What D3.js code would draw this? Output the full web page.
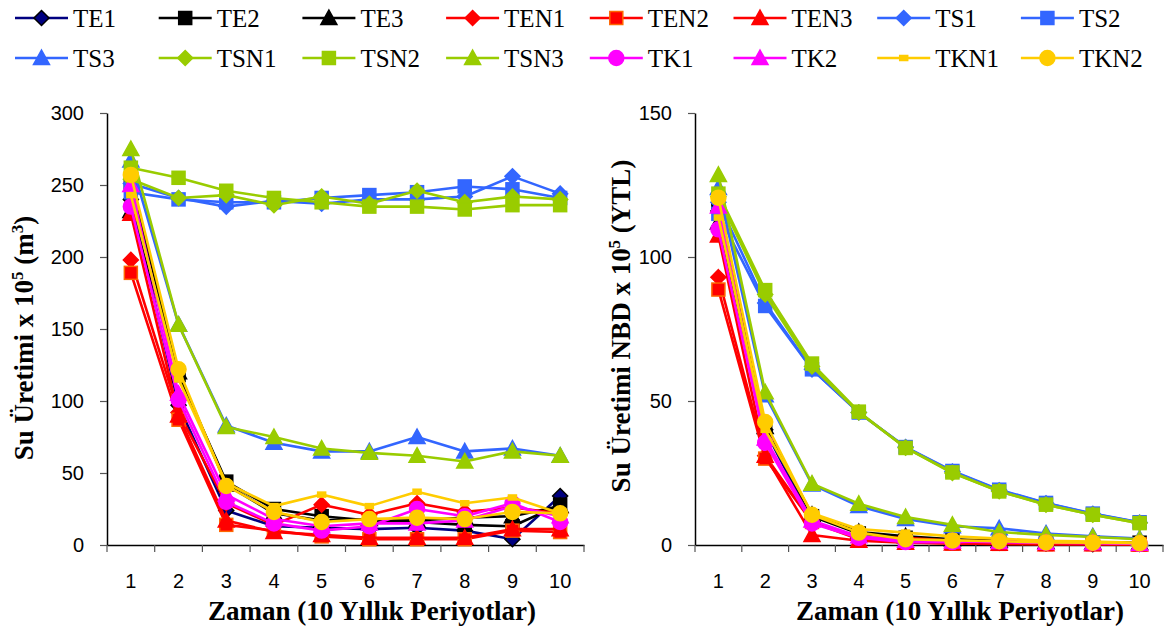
<!DOCTYPE html>
<html><head><meta charset="utf-8">
<script src="https://cdn.jsdelivr.net/npm/d3@7"></script>
<style>body{margin:0;background:#fff}svg{display:block}</style>
</head><body>
<svg id="c" width="1168" height="637"></svg>
<script>
// ---- data ----
const categories = [1,2,3,4,5,6,7,8,9,10];
const seriesNames = ["TE1","TE2","TE3","TEN1","TEN2","TEN3","TS1","TS2","TS3","TSN1","TSN2","TSN3","TK1","TK2","TKN1","TKN2"];
const leftTicks = [0,50,100,150,200,250,300];
const rightTicks = [0,50,100,150];

// Su Üretimi (m3) x 10^5
const prodTE1  = [240, 97, 24, 13, 12, 11, 12, 10, 4, 34];
const prodTE2  = [252, 118, 44, 25, 20, 17, 16, 14, 13, 28];
const prodTE3  = [232, 120, 42, 22, 17, 18, 17, 19, 20, 27];
const prodTEN1 = [198, 92, 29, 14, 28, 21, 29, 23, 26, 22];
const prodTEN2 = [189, 87, 14, 10, 6, 4, 4, 4, 10, 9];
const prodTEN3 = [230, 90, 17, 9, 7, 5, 5, 5, 11, 11];
const prodTS1  = [251, 241, 235, 239, 237, 240, 240, 242, 256, 244];
const prodTS2  = [245, 240, 238, 238, 241, 243, 245, 249, 247, 241];
const prodTS3  = [267, 153, 83, 71, 65, 65, 75, 65, 67, 62];
const prodTSN1 = [254, 241, 243, 236, 242, 237, 246, 238, 242, 240];
const prodTSN2 = [262, 255, 246, 241, 238, 235, 235, 233, 236, 236];
const prodTSN3 = [275, 153, 82, 75, 67, 64, 62, 58, 65, 62];
const prodTK1  = [235, 101, 30, 15, 10, 13, 25, 20, 29, 16];
const prodTK2  = [250, 105, 35, 18, 13, 15, 15, 17, 27, 20];
const prodTKN1 = [243, 115, 43, 27, 35, 27, 37, 29, 33, 22];
const prodTKN2 = [257, 122, 41, 23, 16, 18, 19, 18, 23, 22];

// Su Üretimi NBD (YTL) x 10^5
const npvTE1  = [116, 40, 8, 2.5, 1.5, 1, 0.8, 0.5, 0.3, 0.4];
const npvTE2  = [118, 41, 10, 4, 2.5, 1.8, 1.3, 1, 0.8, 0.8];
const npvTE3  = [112, 41, 10.5, 4.5, 3, 2, 1.5, 1, 0.8, 0.7];
const npvTEN1 = [93, 31, 8, 2.5, 2.5, 1.5, 1.3, 0.8, 0.6, 0.5];
const npvTEN2 = [88.7, 30, 8, 2, 1, 0.5, 0.4, 0.3, 0.3, 0.2];
const npvTEN3 = [107.5, 31, 3.5, 1.5, 0.8, 0.5, 0.4, 0.3, 0.3, 0.2];
const npvTS1  = [119, 84, 61, 46, 34, 25.5, 19, 14.5, 10.8, 7.8];
const npvTS2  = [115, 83, 61, 46, 34, 25.7, 19.2, 14.6, 10.9, 7.9];
const npvTS3  = [124, 52, 21, 13.5, 9, 6.5, 5.8, 4, 3, 2.2];
const npvTSN1 = [121, 87, 62, 46, 33.8, 25, 18.7, 14, 10.5, 7.6];
const npvTSN2 = [122, 88.5, 63, 46.3, 33.7, 25.2, 18.6, 14, 10.5, 7.6];
const npvTSN3 = [128.5, 53, 21.3, 14.3, 9.7, 7, 4.5, 3.5, 2.8, 2];
const npvTK1  = [109.6, 35.5, 7.5, 2.5, 1, 1, 1.3, 0.8, 0.7, 0.4];
const npvTK2  = [117.5, 37, 8.5, 3, 1.5, 1.2, 1, 0.8, 0.7, 0.4];
const npvTKN1 = [113.7, 40, 11, 5.5, 4.3, 3, 2.2, 1.5, 1.2, 0.8];
const npvTKN2 = [120.6, 42.7, 10.5, 4.3, 2, 1.6, 1.3, 0.9, 0.8, 0.6];

const prodData = [prodTE1,prodTE2,prodTE3,prodTEN1,prodTEN2,prodTEN3,prodTS1,prodTS2,prodTS3,prodTSN1,prodTSN2,prodTSN3,prodTK1,prodTK2,prodTKN1,prodTKN2];
const npvData  = [npvTE1,npvTE2,npvTE3,npvTEN1,npvTEN2,npvTEN3,npvTS1,npvTS2,npvTS3,npvTSN1,npvTSN2,npvTSN3,npvTK1,npvTK2,npvTKN1,npvTKN2];

// ---- styles ----
const lineColors = ["#000080","#000000","#000000","#FF0000","#FF0000","#FF0000","#3366FF","#3366FF","#3366FF","#99CC00","#99CC00","#99CC00","#FF00FF","#FF00FF","#FFCC00","#FFCC00"];
const markerFill = ["#000080","#000000","#000000","#FF0000","#FF0000","#FF0000","#3366FF","#3366FF","#3366FF","#99CC00","#99CC00","#99CC00","#FF00FF","#FF00FF","#FFCC00","#FFCC00"];
const markerStroke = ["#000000","#000000","#000000","#FF0000","#FF6600","#FF0000","#3366FF","#3366FF","#3366FF","#99CC00","#99CC00","#99CC00","#FF00FF","#FF00FF","#FFCC00","#FFCC00"];
const markerShape = ["diamond","square","triangle","diamond","square","triangle","diamond","square","triangle","diamond","square","triangle","circle","triangle","dash","circle"];

const svg = d3.select("#c");

function drawMarker(g, shape, cx, cy, fill, stroke){
  let el;
  if(shape==="diamond"){
    el = g.append("path").attr("d",`M${cx},${cy-7.5}L${cx+7.5},${cy}L${cx},${cy+7.5}L${cx-7.5},${cy}Z`);
  } else if(shape==="square"){
    el = g.append("rect").attr("x",cx-6.5).attr("y",cy-6.5).attr("width",13).attr("height",13);
  } else if(shape==="triangle"){
    el = g.append("path").attr("d",`M${cx},${cy-8}L${cx+8},${cy+6.5}L${cx-8},${cy+6.5}Z`);
  } else if(shape==="circle"){
    el = g.append("circle").attr("cx",cx).attr("cy",cy).attr("r",7.5);
  } else {
    el = g.append("rect").attr("x",cx-4).attr("y",cy-2.5).attr("width",8).attr("height",5);
  }
  el.attr("fill",fill).attr("stroke",stroke).attr("stroke-width",1.5);
}

function drawChart(cfg){
  const x = d3.scaleBand().domain(categories).range([cfg.x0,cfg.x1]).padding(0);
  const y = d3.scaleLinear().domain([0,cfg.ymax]).range([545,113]);
  const cx = c => x(c) + x.bandwidth()/2;
  const g = svg.append("g");

  // y axis
  const ya = g.append("g").attr("transform",`translate(${cfg.x0},0)`)
    .call(d3.axisLeft(y).tickValues(cfg.ticks).tickSize(7).tickPadding(16).tickSizeOuter(0));
  ya.select(".domain").attr("stroke","#000").attr("stroke-width",1.5);
  ya.selectAll(".tick line").attr("stroke","#555").attr("stroke-width",1.2);
  ya.selectAll(".tick text").attr("font-family","Liberation Sans, Arial, sans-serif").attr("font-size",20).attr("fill","#000");

  // x axis
  const xa = g.append("g").attr("transform",`translate(0,545)`)
    .call(d3.axisBottom(x).tickSize(0).tickPadding(0).tickSizeOuter(0));
  xa.select(".domain").attr("stroke","#000").attr("stroke-width",1.5);
  xa.selectAll(".tick text").attr("font-family","Liberation Sans, Arial, sans-serif").attr("font-size",20).attr("fill","#000")
    .attr("y",43).attr("dy",0);
  const bounds = categories.map(c=>x(c)).concat([x.range()[1]]);
  g.selectAll(".bt").data(bounds).enter().append("line")
    .attr("x1",d=>d).attr("x2",d=>d).attr("y1",545).attr("y2",552)
    .attr("stroke","#555").attr("stroke-width",1.2);

  // series
  cfg.data.forEach((vals,i)=>{
    const pts = vals.map((v,k)=>[cx(categories[k]), y(v)]);
    g.append("path").attr("d",d3.line()(pts)).attr("fill","none")
      .attr("stroke",lineColors[i]).attr("stroke-width",2.6).attr("stroke-linejoin","round");
    const mg = g.append("g");
    pts.forEach(p=>drawMarker(mg, markerShape[i], p[0], p[1], markerFill[i], markerStroke[i]));
  });

  // titles
  g.append("text").attr("x",cfg.xtX).attr("y",620).attr("text-anchor","middle")
    .attr("font-family","Liberation Serif, Times New Roman, serif").attr("font-weight","bold").attr("font-size",27)
    .text("Zaman (10 Yıllık Periyotlar)");
  const yt = g.append("text").attr("transform",`translate(${cfg.ytX},${cfg.ytY}) rotate(-90)`).attr("text-anchor","middle")
    .attr("font-family","Liberation Serif, Times New Roman, serif").attr("font-weight","bold").attr("font-size",27);
  cfg.ytitle.forEach(part=>{
    const t = yt.append("tspan").text(part.t);
    if(part.sup){ t.attr("font-size",17).attr("dy",-10); }
    else if(part.after){ t.attr("dy",10); }
  });
}

drawChart({x0:107,x1:584,ymax:300,ticks:leftTicks,data:prodData,xtX:372,ytX:33,ytY:338,
  ytitle:[{t:"Su Üretimi x 10"},{t:"5",sup:true},{t:"  (m",after:true},{t:"3",sup:true},{t:")",after:true}]});
drawChart({x0:695,x1:1163,ymax:150,ticks:rightTicks,data:npvData,xtX:960,ytX:630,ytY:326,
  ytitle:[{t:"Su Üretimi NBD x 10"},{t:"5",sup:true},{t:" (YTL)",after:true}]});

// legend
const lg = svg.append("g");
seriesNames.forEach((name,i)=>{
  const col = i%8, row = Math.floor(i/8);
  const lx = 15 + col*143.7, ly = 18 + row*40;
  lg.append("line").attr("x1",lx).attr("x2",lx+53).attr("y1",ly).attr("y2",ly)
    .attr("stroke",lineColors[i]).attr("stroke-width",2.6);
  drawMarker(lg, markerShape[i], lx+26.5, ly, markerFill[i], markerStroke[i]);
  lg.append("text").attr("x",lx+58).attr("y",ly).attr("dy","0.35em")
    .attr("font-family","Liberation Serif, Times New Roman, serif").attr("font-size",25).text(name);
});
</script>
</body></html>
